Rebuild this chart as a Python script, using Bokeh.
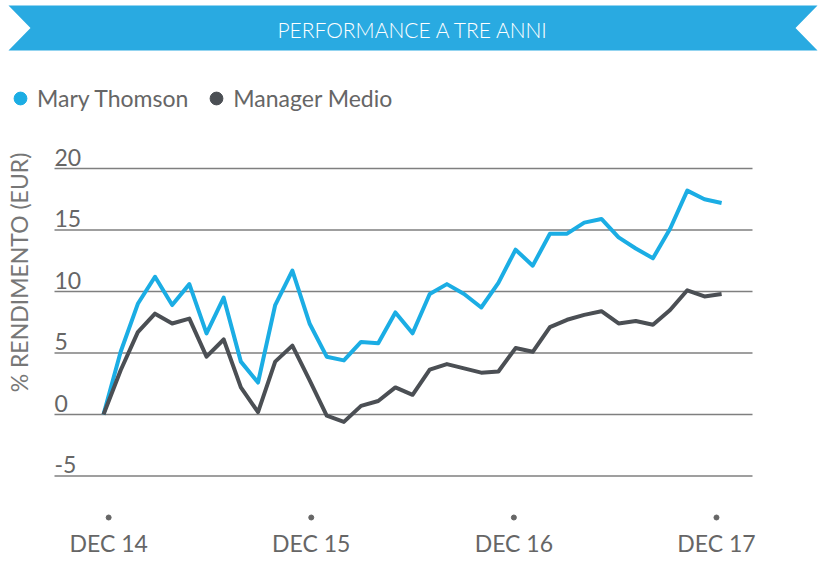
import math
from bokeh.plotting import figure
from bokeh.models import Range1d, Label, PolyAnnotation, Legend, LegendItem
from bokeh.embed import file_html
from bokeh.resources import INLINE
from bokeh.core.properties import value

# ---------------- data ----------------
title_text = "PERFORMANCE A TRE ANNI"
y_title = "% RENDIMENTO (EUR)"
series_names = ["Mary Thomson", "Manager Medio"]
months = list(range(37))
mary_thomson = [0.0, 5.1, 9.0, 11.2, 8.9, 10.6, 6.6, 9.5, 4.3, 2.6,
                8.9, 11.7, 7.4, 4.7, 4.4, 5.9, 5.8, 8.3, 6.6, 9.8,
                10.6, 9.8, 8.7, 10.7, 13.4, 12.1, 14.7, 14.7, 15.6, 15.9,
                14.4, 13.5, 12.7, 15.1, 18.2, 17.5, 17.2]
manager_medio = [0.0, 3.6, 6.7, 8.2, 7.4, 7.8, 4.7, 6.1, 2.2, 0.2,
                 4.3, 5.6, 2.8, -0.1, -0.6, 0.7, 1.1, 2.2, 1.6, 3.65,
                 4.1, 3.75, 3.4, 3.5, 5.4, 5.1, 7.1, 7.7, 8.1, 8.4,
                 7.4, 7.6, 7.3, 8.5, 10.1, 9.6, 9.8]
x_tick_pos = [0.3, 12.1, 23.9, 35.7]
x_tick_labels = ["DEC 14", "DEC 15", "DEC 16", "DEC 17"]
y_ticks = [-5, 0, 5, 10, 15, 20]
y_tick_labels = ["-5", "0", "5", "10", "15", "20"]

# ---------------- style / layout ----------------
BLUE = "#1bade4"
DARK = "#4b4f54"
BANNER = "#29aae1"
GRID = "#7f7f7f"
TXT = "#666666"
FONT = "Lato"
LIGHT_FONT = "'Lato Light', Lato"

W, H = 821, 569
# pixel scale of the plotting area
X0_PX, X_STEP = 103.0, 17.17      # pixel of month 0, pixels per month
Y0_PX, Y_STEP = 414.0, 12.3       # pixel of 0 %, pixels per 1 %
def xv(px): return (px - X0_PX) / X_STEP
def yv(py): return (Y0_PX - py) / Y_STEP

grid_x0, grid_x1 = xv(54), xv(752)
dot_y = yv(517)
lab_y = yv(542)

p = figure(width=W, height=H, x_range=Range1d(xv(0), xv(W)), y_range=Range1d(yv(H), yv(0)),
           output_backend="svg", toolbar_location=None, x_axis_type=None, y_axis_type=None,
           min_border=0, outline_line_color=None, title=None)

# horizontal gridlines
p.segment(x0=[grid_x0] * len(y_ticks), x1=[grid_x1] * len(y_ticks), y0=y_ticks, y1=y_ticks,
          line_color=GRID, line_width=1.6)

# y tick labels above gridlines, left aligned
p.text(x=[grid_x0] * len(y_ticks), y=y_ticks, text=y_tick_labels,
       text_font=value(FONT), text_font_size="23px", text_color=TXT,
       text_align="left", text_baseline="bottom", y_offset=-3)

# x ticks: dots and labels
p.scatter(x=x_tick_pos, y=[dot_y] * len(x_tick_pos), marker="circle", size=5,
          color="#666666")
p.text(x=x_tick_pos, y=[lab_y] * len(x_tick_pos), text=x_tick_labels,
       text_font=value(FONT), text_font_size="23px", text_color=TXT,
       text_align="center", text_baseline="middle")

# series
p.line(months, mary_thomson, line_width=4, color=BLUE, line_join="round")
p.line(months, manager_medio, line_width=4, color=DARK, line_join="round")

# legend (scatter renderers without visible points carry the dot glyphs)
nan = float("nan")
d1 = p.scatter(x=[nan], y=[nan], marker="circle", size=12, color=BLUE)
d2 = p.scatter(x=[nan], y=[nan], marker="circle", size=12, color=DARK)
leg = Legend(items=[LegendItem(label=series_names[0], renderers=[d1]),
                    LegendItem(label=series_names[1], renderers=[d2])],
             orientation="horizontal", location=(4, H - 113.5),
             glyph_width=32, glyph_height=32, label_standoff=1, spacing=12,
             padding=0, margin=0, border_line_alpha=0, background_fill_alpha=0,
             label_text_font=FONT, label_text_font_size="23px", label_text_color=TXT)
p.add_layout(leg)

# banner
bx = [8, 817, 795, 817, 8, 30]
by = [5, 5, 27.5, 50, 50, 27.5]
p.add_layout(PolyAnnotation(xs=bx, ys=[H - y for y in by],
                            xs_units="screen", ys_units="screen",
                            fill_color=BANNER, fill_alpha=1, line_color=None))
p.add_layout(Label(x=413, y=H - 29, x_units="screen", y_units="screen",
                   text=title_text, text_font=LIGHT_FONT, text_font_size="21px",
                   text_color="white", text_align="center", text_baseline="middle"))

# y axis title
p.add_layout(Label(x=18, y=H - 272, x_units="screen", y_units="screen",
                   text=y_title, angle=math.pi / 2, text_font=FONT, text_font_size="23px",
                   text_color="#777777", text_align="center", text_baseline="middle"))

open("out.html", "w").write(file_html(p, INLINE))
